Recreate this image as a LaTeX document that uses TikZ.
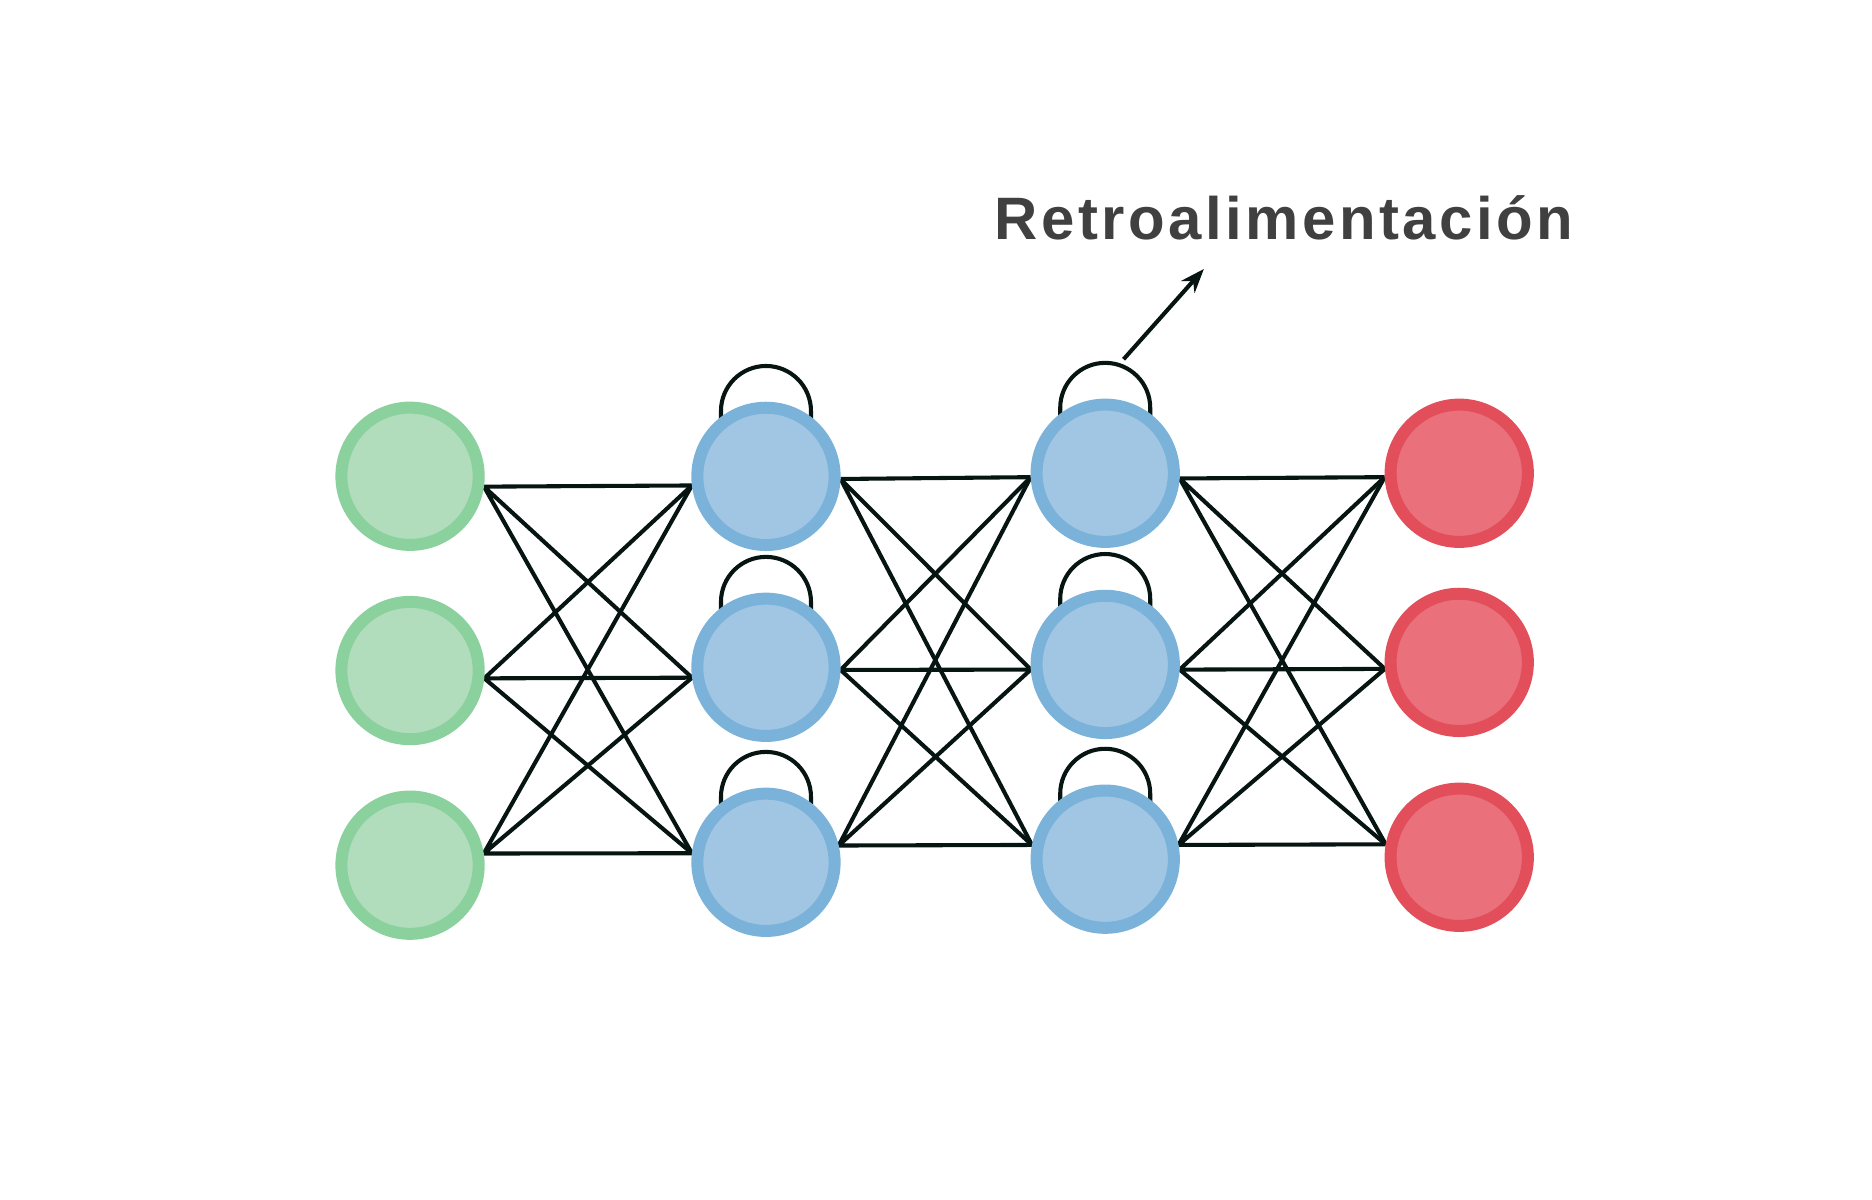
\documentclass[tikz,border=0pt]{standalone}
\usepackage{fontspec}
\newfontfamily\feedfont[LetterSpace=5.8]{Liberation Sans}
\usetikzlibrary{arrows.meta,backgrounds}

\definecolor{inborder}{HTML}{8BD19E}
\definecolor{infill}{HTML}{B1DDBD}
\definecolor{hidborder}{HTML}{7BB2D9}
\definecolor{hidfill}{HTML}{A1C6E3}
\definecolor{outborder}{HTML}{E24F5B}
\definecolor{outfill}{HTML}{EA717B}
\definecolor{wire}{HTML}{061412}
\definecolor{txtgray}{HTML}{404040}

\tikzset{
  neuron/.style={circle,minimum size=1.144cm,inner sep=0pt,line width=0.1cm},
  innode/.style={neuron,draw=inborder,fill=infill},
  hidnode/.style={neuron,draw=hidborder,fill=hidfill},
  outnode/.style={neuron,draw=outborder,fill=outfill},
  link/.style={draw=wire,line width=0.034cm},
}

\begin{document}
\begin{tikzpicture}
\useasboundingbox (0,0) rectangle (15.6,10);

% capa de entrada
\node[innode] at (3.417,6.031) (g1) {};
\node[innode] at (3.417,4.412) (g2) {};
\node[innode] at (3.417,2.790) (g3) {};

% capas ocultas
\node[hidnode] at (6.383,6.030) (b1) {};
\node[hidnode] at (6.383,4.439) (b2) {};
\node[hidnode] at (6.383,2.814) (b3) {};

\node[hidnode] at (9.210,6.056) (c1) {};
\node[hidnode] at (9.210,4.463) (c2) {};
\node[hidnode] at (9.210,2.840) (c3) {};

% capa de salida
\node[outnode] at (12.160,6.056) (r1) {};
\node[outnode] at (12.160,4.480) (r2) {};
\node[outnode] at (12.160,2.856) (r3) {};

\begin{scope}[on background layer]
\draw[link] (g1.352.5) -- (b1.187.4) (g1.352.5) -- (b2.188.5) (g1.352.5) -- (b3.173);
\draw[link] (g2.354) -- (b1.187.4) (g2.354) -- (b2.188.5) (g2.354) -- (b3.173);
\draw[link] (g3.9.3) -- (b1.187.4) (g3.9.3) -- (b2.188.5) (g3.9.3) -- (b3.173);

\draw[link] (b1.358.5) -- (c1.183.9) (b1.358.5) -- (c2.184.2) (b1.358.5) -- (c3.169.2);
\draw[link] (b2.358) -- (c1.183.9) (b2.358) -- (c2.184.2) (b2.358) -- (c3.169.2);
\draw[link] (b3.13.2) -- (c1.183.9) (b3.13.2) -- (c2.184.2) (b3.13.2) -- (c3.169.2);

\draw[link] (c1.356.9) -- (r1.183.1) (c1.356.9) -- (r2.185) (c1.356.9) -- (r3.170);
\draw[link] (c2.356.5) -- (r1.183.1) (c2.356.5) -- (r2.185) (c2.356.5) -- (r3.170);
\draw[link] (c3.11.5) -- (r1.183.1) (c3.11.5) -- (r2.185) (c3.11.5) -- (r3.170);

% lazos de retroalimentacion
\draw[link] ([shift={(-0.375,0.4)}]b1.center) -- ++(0,0.145) arc[start angle=180,end angle=0,radius=0.375] -- ++(0,-0.145);
\draw[link] ([shift={(-0.375,0.4)}]b2.center) -- ++(0,0.145) arc[start angle=180,end angle=0,radius=0.375] -- ++(0,-0.145);
\draw[link] ([shift={(-0.375,0.4)}]b3.center) -- ++(0,0.145) arc[start angle=180,end angle=0,radius=0.375] -- ++(0,-0.145);
\draw[link] ([shift={(-0.375,0.4)}]c1.center) -- ++(0,0.145) arc[start angle=180,end angle=0,radius=0.375] -- ++(0,-0.145);
\draw[link] ([shift={(-0.375,0.4)}]c2.center) -- ++(0,0.145) arc[start angle=180,end angle=0,radius=0.375] -- ++(0,-0.145);
\draw[link] ([shift={(-0.375,0.4)}]c3.center) -- ++(0,0.145) arc[start angle=180,end angle=0,radius=0.375] -- ++(0,-0.145);
\end{scope}

\node[anchor=base,text=txtgray,font=\feedfont\bfseries\fontsize{14.2}{17}\selectfont] at (10.70,8.006) (fb) {Retroalimentación};
\coordinate (fbtail) at (9.363,7.006);
\coordinate (fbtip) at (10.032,7.758);
\draw[link,-{Stealth[length=2mm,width=1.5mm]}] (fbtail) -- (fbtip);
\end{tikzpicture}
\end{document}
